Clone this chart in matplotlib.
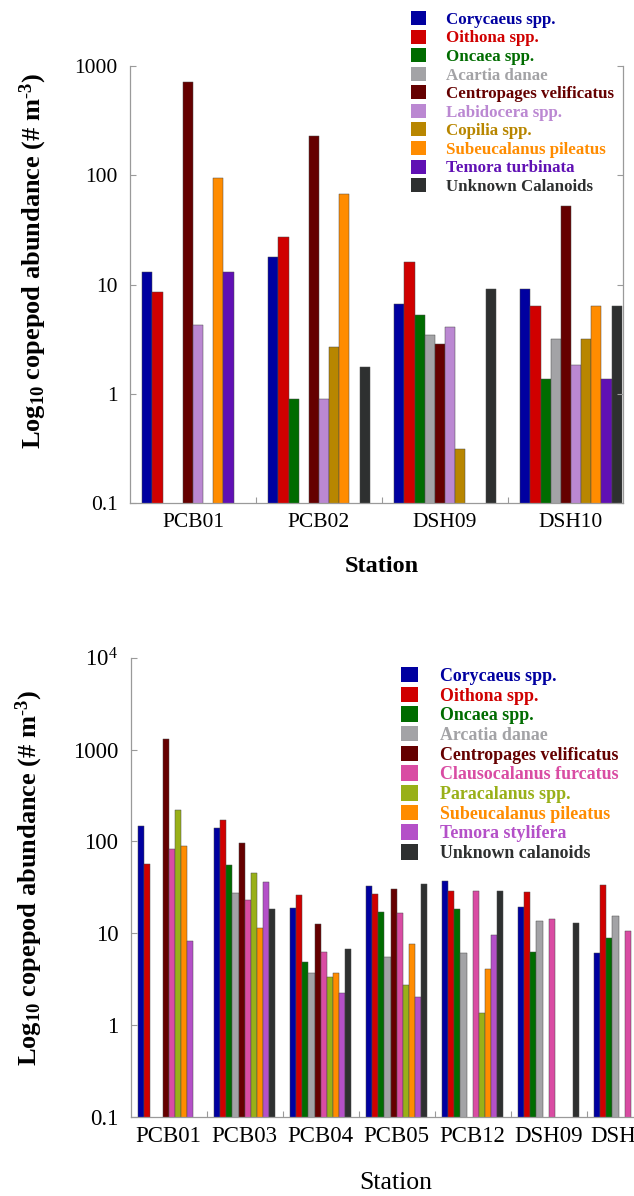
import numpy as np
import matplotlib
matplotlib.use("Agg")
import matplotlib.pyplot as plt
from matplotlib.ticker import FixedLocator, NullLocator, FixedFormatter

nan = np.nan

# ---- Upper panel: four stations ----
stations_a = ["PCB01", "PCB02", "DSH09", "DSH10"]
species_a = ["Corycaeus spp.", "Oithona spp.", "Oncaea spp.", "Acartia danae",
             "Centropages velificatus", "Labidocera spp.", "Copilia spp.",
             "Subeucalanus pileatus", "Temora turbinata", "Unknown Calanoids"]
corycaeus_a = [13, 18, 6.6, 9.1]
oithona_a = [8.6, 27, 16, 6.4]
oncaea_a = [nan, 0.89, 5.3, 1.37]
acartia_a = [nan, nan, 3.45, 3.2]
centropages_a = [720, 230, 2.83, 52]
labidocera_a = [4.3, 0.89, 4.1, 1.83]
copilia_a = [nan, 2.66, 0.31, 3.2]
subeucalanus_a = [95, 68, nan, 6.4]
temora_a = [13, nan, nan, 1.37]
unknown_a = [nan, 1.77, 9.1, 6.4]
colors_a = ["#0000a0", "#d00000", "#006c00", "#a3a3a6", "#650000",
            "#bb88d2", "#b88600", "#ff8c00", "#6010b4", "#2e3030"]

# ---- Lower panel: seven stations ----
stations_b = ["PCB01", "PCB03", "PCB04", "PCB05", "PCB12", "DSH09", "DSH10"]
species_b = ["Corycaeus spp.", "Oithona spp.", "Oncaea spp.", "Arcatia danae",
             "Centropages velificatus", "Clausocalanus furcatus", "Paracalanus spp.",
             "Subeucalanus pileatus", "Temora stylifera", "Unknown calanoids"]
corycaeus_b = [147, 141, 18.9, 33, 36.6, 19.2, 6.1]
oithona_b = [57, 169, 25.8, 26.5, 28.5, 27.8, 33.7]
oncaea_b = [nan, 55, 4.8, 17.1, 18.3, 6.2, 8.85]
acartia_b = [nan, 27.2, 3.7, 5.45, 6.1, 13.6, 15.5]
centropages_b = [1300, 96, 12.7, 30, nan, nan, nan]
clausocalanus_b = [82, 22.8, 6.3, 16.4, 28.5, 14.4, 10.5]
paracalanus_b = [221, 45.5, 3.33, 2.7, 1.36, nan, nan]
subeucalanus_b = [89.5, 11.4, 3.7, 7.55, 4.06, nan, nan]
temora_b = [8.2, 36.3, 2.23, 2.03, 9.5, nan, nan]
unknown_b = [nan, 18.3, 6.66, 34, 28.5, 12.9, nan]
colors_b = ["#0000a0", "#d00000", "#006c00", "#a3a3a6", "#650000",
            "#d94ca3", "#99b018", "#ff8c00", "#b450c8", "#2e3030"]

series_a = [corycaeus_a, oithona_a, oncaea_a, acartia_a, centropages_a,
            labidocera_a, copilia_a, subeucalanus_a, temora_a, unknown_a]
series_b = [corycaeus_b, oithona_b, oncaea_b, acartia_b, centropages_b,
            clausocalanus_b, paracalanus_b, subeucalanus_b, temora_b, unknown_b]

plt.rcParams["font.family"] = ["Liberation Serif", "DejaVu Serif"]
plt.rcParams["mathtext.fontset"] = "custom"
plt.rcParams["mathtext.rm"] = "Liberation Serif"
plt.rcParams["mathtext.it"] = "Liberation Serif:italic"
plt.rcParams["mathtext.bf"] = "Liberation Serif:bold"

W, H = 634, 1196
fig = plt.figure(figsize=(W / 100, H / 100), dpi=100)

SPINE = "#9a9a9a"
BAR_W = 0.0805
YLABEL = r"$\mathbf{Log}_{\mathbf{10}}$ copepod abundance (# m$^{\mathbf{\text{-}3}}$)"


def panel(rect, stations, species, series, colors, ylim, yticks, yticklabels,
          tick_fs, xlim, right_spine):
    ax = fig.add_axes(rect)
    n = len(series)
    x0 = np.arange(len(stations)) + 0.5
    handles = []
    for k, (vals, col) in enumerate(zip(series, colors)):
        xs = x0 + (k - (n - 1) / 2) * BAR_W
        h = ax.bar(xs, vals, width=BAR_W, color=col, edgecolor="#4a4a4a",
                   linewidth=0.35, label=species[k])
        handles.append(h)
    ax.set_yscale("log")
    ax.set_ylim(*ylim)
    ax.set_xlim(*xlim)
    ax.yaxis.set_major_locator(FixedLocator(yticks))
    ax.yaxis.set_major_formatter(FixedFormatter(yticklabels))
    ax.yaxis.set_minor_locator(NullLocator())
    ax.set_xticks(x0)
    ax.set_xticklabels(stations)
    ax.set_xticks(np.arange(1, len(stations)), minor=True)
    ax.tick_params(axis="x", which="major", length=0, pad=7, labelsize=tick_fs)
    ax.tick_params(axis="x", which="minor", direction="in", length=4,
                   color=SPINE, width=0.8)
    ax.tick_params(axis="y", which="major", direction="in", length=4,
                   color=SPINE, width=0.8, pad=9, labelsize=tick_fs,
                   right=right_spine)
    ax.spines["top"].set_visible(False)
    ax.spines["right"].set_visible(right_spine)
    for s in ("left", "bottom", "right"):
        ax.spines[s].set_color(SPINE)
        ax.spines[s].set_linewidth(0.9)
    return ax, handles


# Upper panel
axA, hA = panel([130 / W, 1 - 503 / H, 493 / W, 437 / H], stations_a, species_a,
                series_a, colors_a, (0.1, 1000), [0.1, 1, 10, 100, 1000],
                ["0.1", "1", "10", "100", "1000"], 15.5, (0, 3.913), True)
axA.set_ylabel(YLABEL, fontsize=19, fontweight="bold")
axA.yaxis.set_label_coords((33 - 130) / 493, (503 - 260.5) / 437)
axA.yaxis.label.set_va("center")
axA.set_xlabel("Station", fontsize=17.5, fontweight="bold")
axA.xaxis.set_label_coords((381.7 - 130) / 493, (503 - 566) / 437)
axA.xaxis.label.set_va("center")
legA = axA.legend(handles=hA, loc="upper left",
                  bbox_to_anchor=(411 / W, 1 - 11 / H), bbox_transform=fig.transFigure,
                  frameon=False, prop={"family": "Liberation Serif", "weight": "bold", "size": 12.2},
                  handlelength=0.9, handleheight=0.9, handletextpad=1.15,
                  labelspacing=0.1, borderpad=0, borderaxespad=0, labelcolor=colors_a)
for p in legA.get_patches():
    p.set_linewidth(0)

# Lower panel (extends past the right edge of the canvas)
axB, hB = panel([130.7 / W, 1 - 1116.7 / H, 532 / W, 459 / H], stations_b, species_b,
                series_b, colors_b, (0.1, 1e4), [0.1, 1, 10, 100, 1000, 1e4],
                ["0.1", "1", "10", "100", "1000", r"$10^4$"], 16.5, (0, 7), False)
axB.set_ylabel(YLABEL, fontsize=19, fontweight="bold")
axB.yaxis.set_label_coords((29 - 130.7) / 532, (1116.7 - 877.5) / 459)
axB.yaxis.label.set_va("center")
axB.set_xlabel("Station", fontsize=18.5)
axB.xaxis.set_label_coords((396 - 130.7) / 532, (1116.7 - 1183) / 459)
axB.xaxis.label.set_va("center")
legB = axB.legend(handles=hB, loc="upper left",
                  bbox_to_anchor=(401 / W, 1 - 667 / H), bbox_transform=fig.transFigure,
                  frameon=False, prop={"family": "Liberation Serif", "weight": "bold", "size": 12.9},
                  handlelength=0.95, handleheight=0.95, handletextpad=1.2,
                  labelspacing=0.1, borderpad=0, borderaxespad=0, labelcolor=colors_b)
for p in legB.get_patches():
    p.set_linewidth(0)

fig.savefig("out.png", dpi=100)
